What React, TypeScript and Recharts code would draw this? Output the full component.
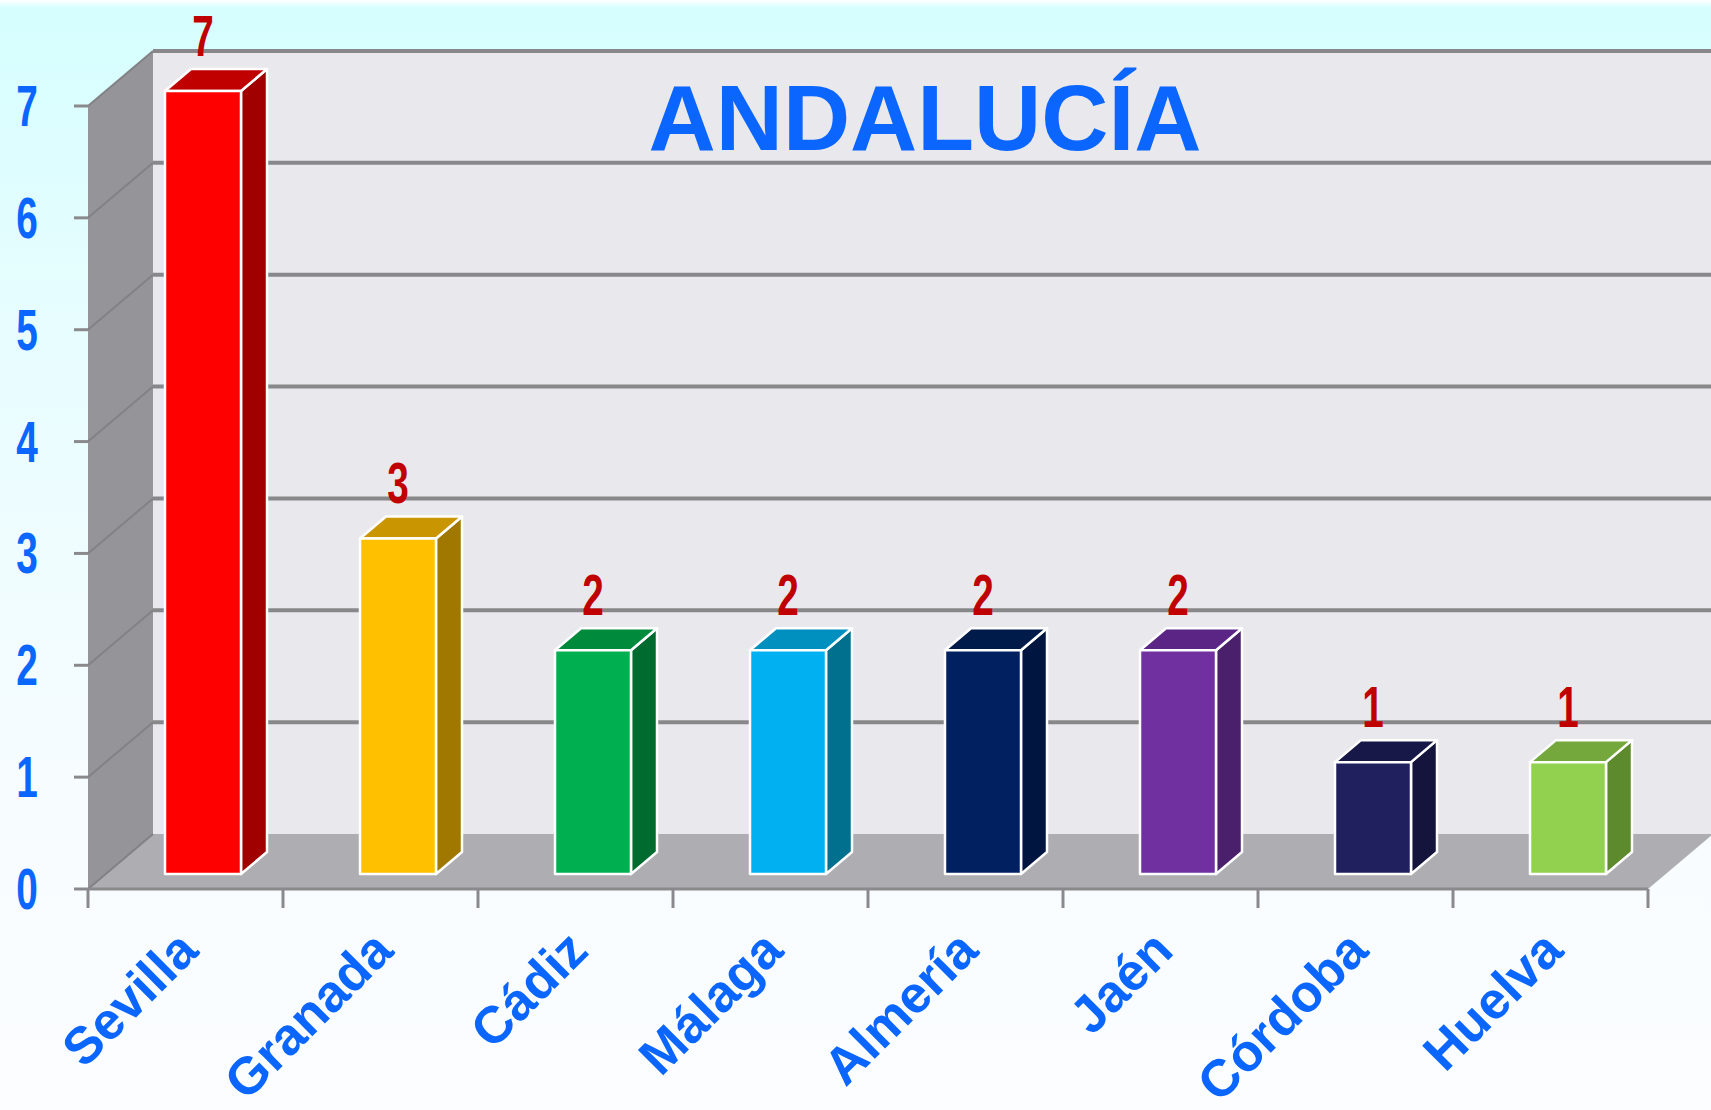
import { BarChart, Bar, XAxis, YAxis, CartesianGrid, LabelList, ReferenceArea } from 'recharts'

const provinces = ['Sevilla', 'Granada', 'Cádiz', 'Málaga', 'Almería', 'Jaén', 'Córdoba', 'Huelva']
const counts = [7, 3, 2, 2, 2, 2, 1, 1]
const yTicks = [0, 1, 2, 3, 4, 5, 6, 7]

const frontColors = ['#ff0000', '#ffc000', '#00b050', '#00b0f0', '#002060', '#7030a0', '#20205f', '#92d050']
const sideColors = ['#a00000', '#a07800', '#006b2e', '#00708f', '#001540', '#4a1f6b', '#14143c', '#5e8a2e']
const topColors = ['#c00000', '#c99500', '#008a3c', '#0090c0', '#001a4a', '#5a2585', '#181848', '#74a83c']

const data = provinces.map((name, i) => ({ name, value: counts[i] }))

const W = 1711
const H = 1110
const LEFT = 88
const RIGHT = 1648
const TOP = 106
const BOTTOM = 889
const BAND = (RIGHT - LEFT) / provinces.length

// wall depth, bar set-back and bar depth
const DX = 65
const DY = 55
const OX = 17
const OY = 15
const BDX = 26
const BDY = 22

const BLUE = '#0a66ff'
const FONT = '"Liberation Sans", Arial, sans-serif'

function NarrowText({ x, y, fill, size, children }: any) {
  return (
    <text
      transform={`translate(${x},${y}) scale(0.68,1)`}
      textAnchor="middle"
      fontFamily={FONT}
      fontWeight="bold"
      fontSize={size}
      fill={fill}
    >
      {children}
    </text>
  )
}

function Walls({ x, y, width, height }: any) {
  const l = x
  const r = x + width
  const t = y
  const b = y + height
  return (
    <g>
      <polygon points={`${l},${t} ${l + DX},${t - DY} ${r + DX},${t - DY} ${r + DX},${b - DY} ${l + DX},${b - DY}`} fill="#e9e8ed" />
      <polygon points={`${l},${t} ${l + DX},${t - DY} ${l + DX},${b - DY} ${l},${b}`} fill="#959599" />
      <polygon points={`${l},${b} ${r},${b} ${r + DX},${b - DY} ${l + DX},${b - DY}`} fill="#aeaeb2" />
    </g>
  )
}

function GridLine(props: any) {
  const { x1, y1, x2, y2, index } = props
  const isFloor = Math.abs(y1 - BOTTOM) < 1
  return (
    <g key={`g-${index}`}>
      {!isFloor && (
        <line x1={x1 + DX} y1={y1 - DY} x2={x2 + DX} y2={y2 - DY} stroke="#88888a" strokeWidth={4} />
      )}
      <line x1={x1} y1={y1} x2={x1 + DX} y2={y1 - DY} stroke="#828286" strokeWidth={2} />
    </g>
  )
}

function Bar3D(props: any) {
  const { x, y, width, height, index } = props
  const fx = x + OX
  const fy = y - OY
  const w = width
  const h = height
  return (
    <g stroke="#ffffff" strokeWidth={2.5} strokeLinejoin="round">
      <polygon
        points={`${fx + w},${fy} ${fx + w + BDX},${fy - BDY} ${fx + w + BDX},${fy + h - BDY} ${fx + w},${fy + h}`}
        fill={sideColors[index]}
      />
      <polygon
        points={`${fx},${fy} ${fx + BDX},${fy - BDY} ${fx + w + BDX},${fy - BDY} ${fx + w},${fy}`}
        fill={topColors[index]}
      />
      <rect x={fx} y={fy} width={w} height={h} fill={frontColors[index]} />
    </g>
  )
}

function ValueLabel(props: any) {
  const { x, y, width, value } = props
  return (
    <NarrowText x={x + OX + width / 2} y={y - OY - BDY - 13} fill="#c00000" size={57}>
      {value}
    </NarrowText>
  )
}

function YTick(props: any) {
  const { y, payload } = props
  return (
    <NarrowText x={27} y={y + 20} fill={BLUE} size={57}>
      {payload.value}
    </NarrowText>
  )
}

function XTick(props: any) {
  const { x, payload, index } = props
  const left = x - BAND / 2
  const right = x + BAND / 2
  const ax = x + 15
  const ay = BOTTOM + 64
  return (
    <g>
      <line x1={left} y1={BOTTOM} x2={left} y2={BOTTOM + 19} stroke="#8a8a8c" strokeWidth={3} />
      {index === provinces.length - 1 && (
        <line x1={right} y1={BOTTOM} x2={right} y2={BOTTOM + 19} stroke="#8a8a8c" strokeWidth={3} />
      )}
      <text
        x={ax}
        y={ay}
        transform={`rotate(-45, ${ax}, ${ay})`}
        textAnchor="end"
        fontFamily={FONT}
        fontWeight="bold"
        fontSize={52}
        fill={BLUE}
      >
        {payload.value}
      </text>
    </g>
  )
}

export default function App() {
  return (
    <div
      style={{
        position: 'absolute',
        left: 0,
        top: 0,
        width: W,
        height: H,
        background: 'linear-gradient(to bottom, #ffffff 0px, #d6fefe 8px, #e6fdff 300px, #f7fcff 800px, #fbfdff 1110px)',
        overflow: 'hidden',
      }}
    >
      <BarChart
        width={W}
        height={H}
        data={data}
        margin={{ top: TOP, right: W - RIGHT, bottom: 0, left: 0 }}
        barSize={76}
      >
        <ReferenceArea y1={0} y2={7} shape={<Walls />} zIndex={-200} ifOverflow="visible" />
        <CartesianGrid vertical={false} horizontal={GridLine} zIndex={-100} />
        <YAxis
          type="number"
          domain={[0, 7]}
          ticks={yTicks}
          width={LEFT}
          axisLine={false}
          tickLine={{ stroke: '#8a8a8c', strokeWidth: 3 }}
          tickSize={14}
          tick={<YTick />}
          interval={0}
        />
        <XAxis
          dataKey="name"
          height={H - BOTTOM}
          axisLine={{ stroke: '#8a8a8c', strokeWidth: 3 }}
          tickLine={false}
          tick={<XTick />}
          interval={0}
        />
        <Bar dataKey="value" shape={<Bar3D />} isAnimationActive={false}>
          <LabelList dataKey="value" content={<ValueLabel />} />
        </Bar>
      </BarChart>
      <svg width={W} height={H} style={{ position: 'absolute', left: 0, top: 0, pointerEvents: 'none' }}>
        <text x={925} y={150} textAnchor="middle" fontFamily={FONT} fontWeight="bold" fontSize={93} fill={BLUE}>
          ANDALUCÍA
        </text>
      </svg>
    </div>
  )
}
